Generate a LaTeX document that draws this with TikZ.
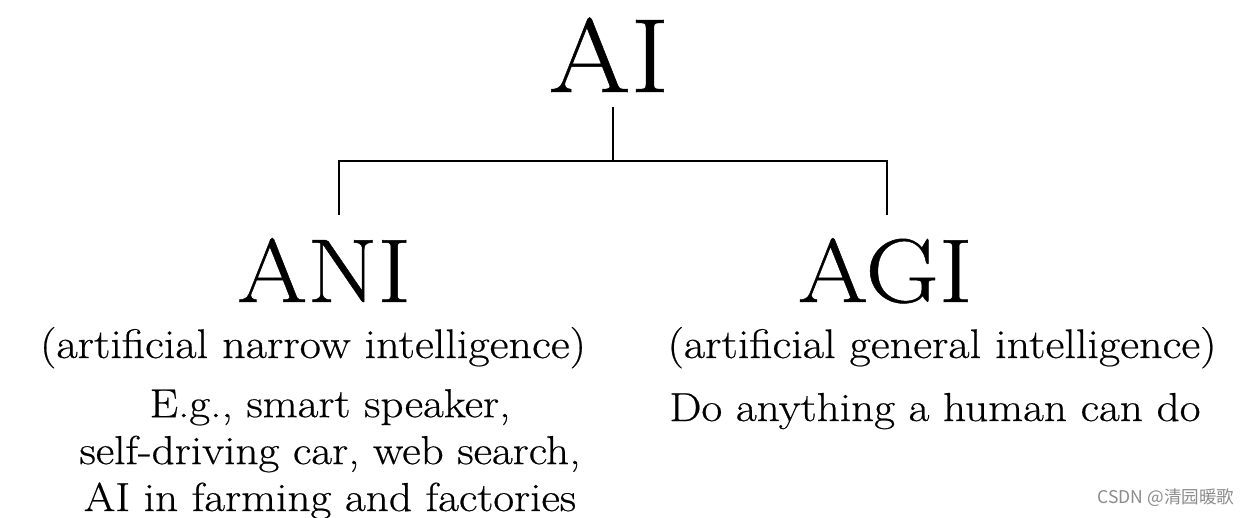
\documentclass[tikz,border=0pt]{standalone}
\usepackage{fontspec}
\setmainfont{Latin Modern Roman}[FakeStretch=1.12, FakeBold=0.5]
\newfontfamily\cjk{Noto Sans CJK SC}
\usepackage{tikz}
\usetikzlibrary{positioning, calc}

\begin{document}
\begin{tikzpicture}[x=0.02cm, y=-0.02cm,
    every node/.style={inner sep=0pt, anchor=base},
    top/.style={font=\fontsize{60}{66}\selectfont},
    head/.style={font=\fontsize{51.5}{58}\selectfont},
    sub/.style={font=\fontsize{23.5}{27}\selectfont},
    body/.style={font=\fontsize{23}{26.7}\selectfont, align=center},
    tree/.style={line width=1.1pt}]
    \useasboundingbox (0,0) rectangle (1250,517);
    \node[top] (AI) at (609,92) {AI};
    \node[head] (ANI) at (324,302) {ANI};
    \node[head] (AGI) at (885,302) {AGI};
    \node[sub] (ANIlong) at (313,358) {(artificial narrow intelligence)};
    \node[sub] (AGIlong) at (942,358) {(artificial general intelligence)};
    \node[body] (ANIex) at (330,511) {E.g., smart speaker,\\ self-driving car, web search,\\ AI in farming and factories};
    \node[body] (AGIex) at (935,421) {Do anything a human can do};
    \node[font=\cjk\fontsize{10}{12}\selectfont, text=black!45] (mark) at (1166,503) {CSDN @清园暖歌};
    % tree lines
    \coordinate (fork) at (613,161);
    \coordinate (ANItop) at (339,215);
    \coordinate (AGItop) at (887,215);
    \draw[tree] (AI.base) ++(4,15) -- (fork);
    \draw[tree] (ANItop) |- (fork) -| (AGItop);
\end{tikzpicture}
\end{document}
